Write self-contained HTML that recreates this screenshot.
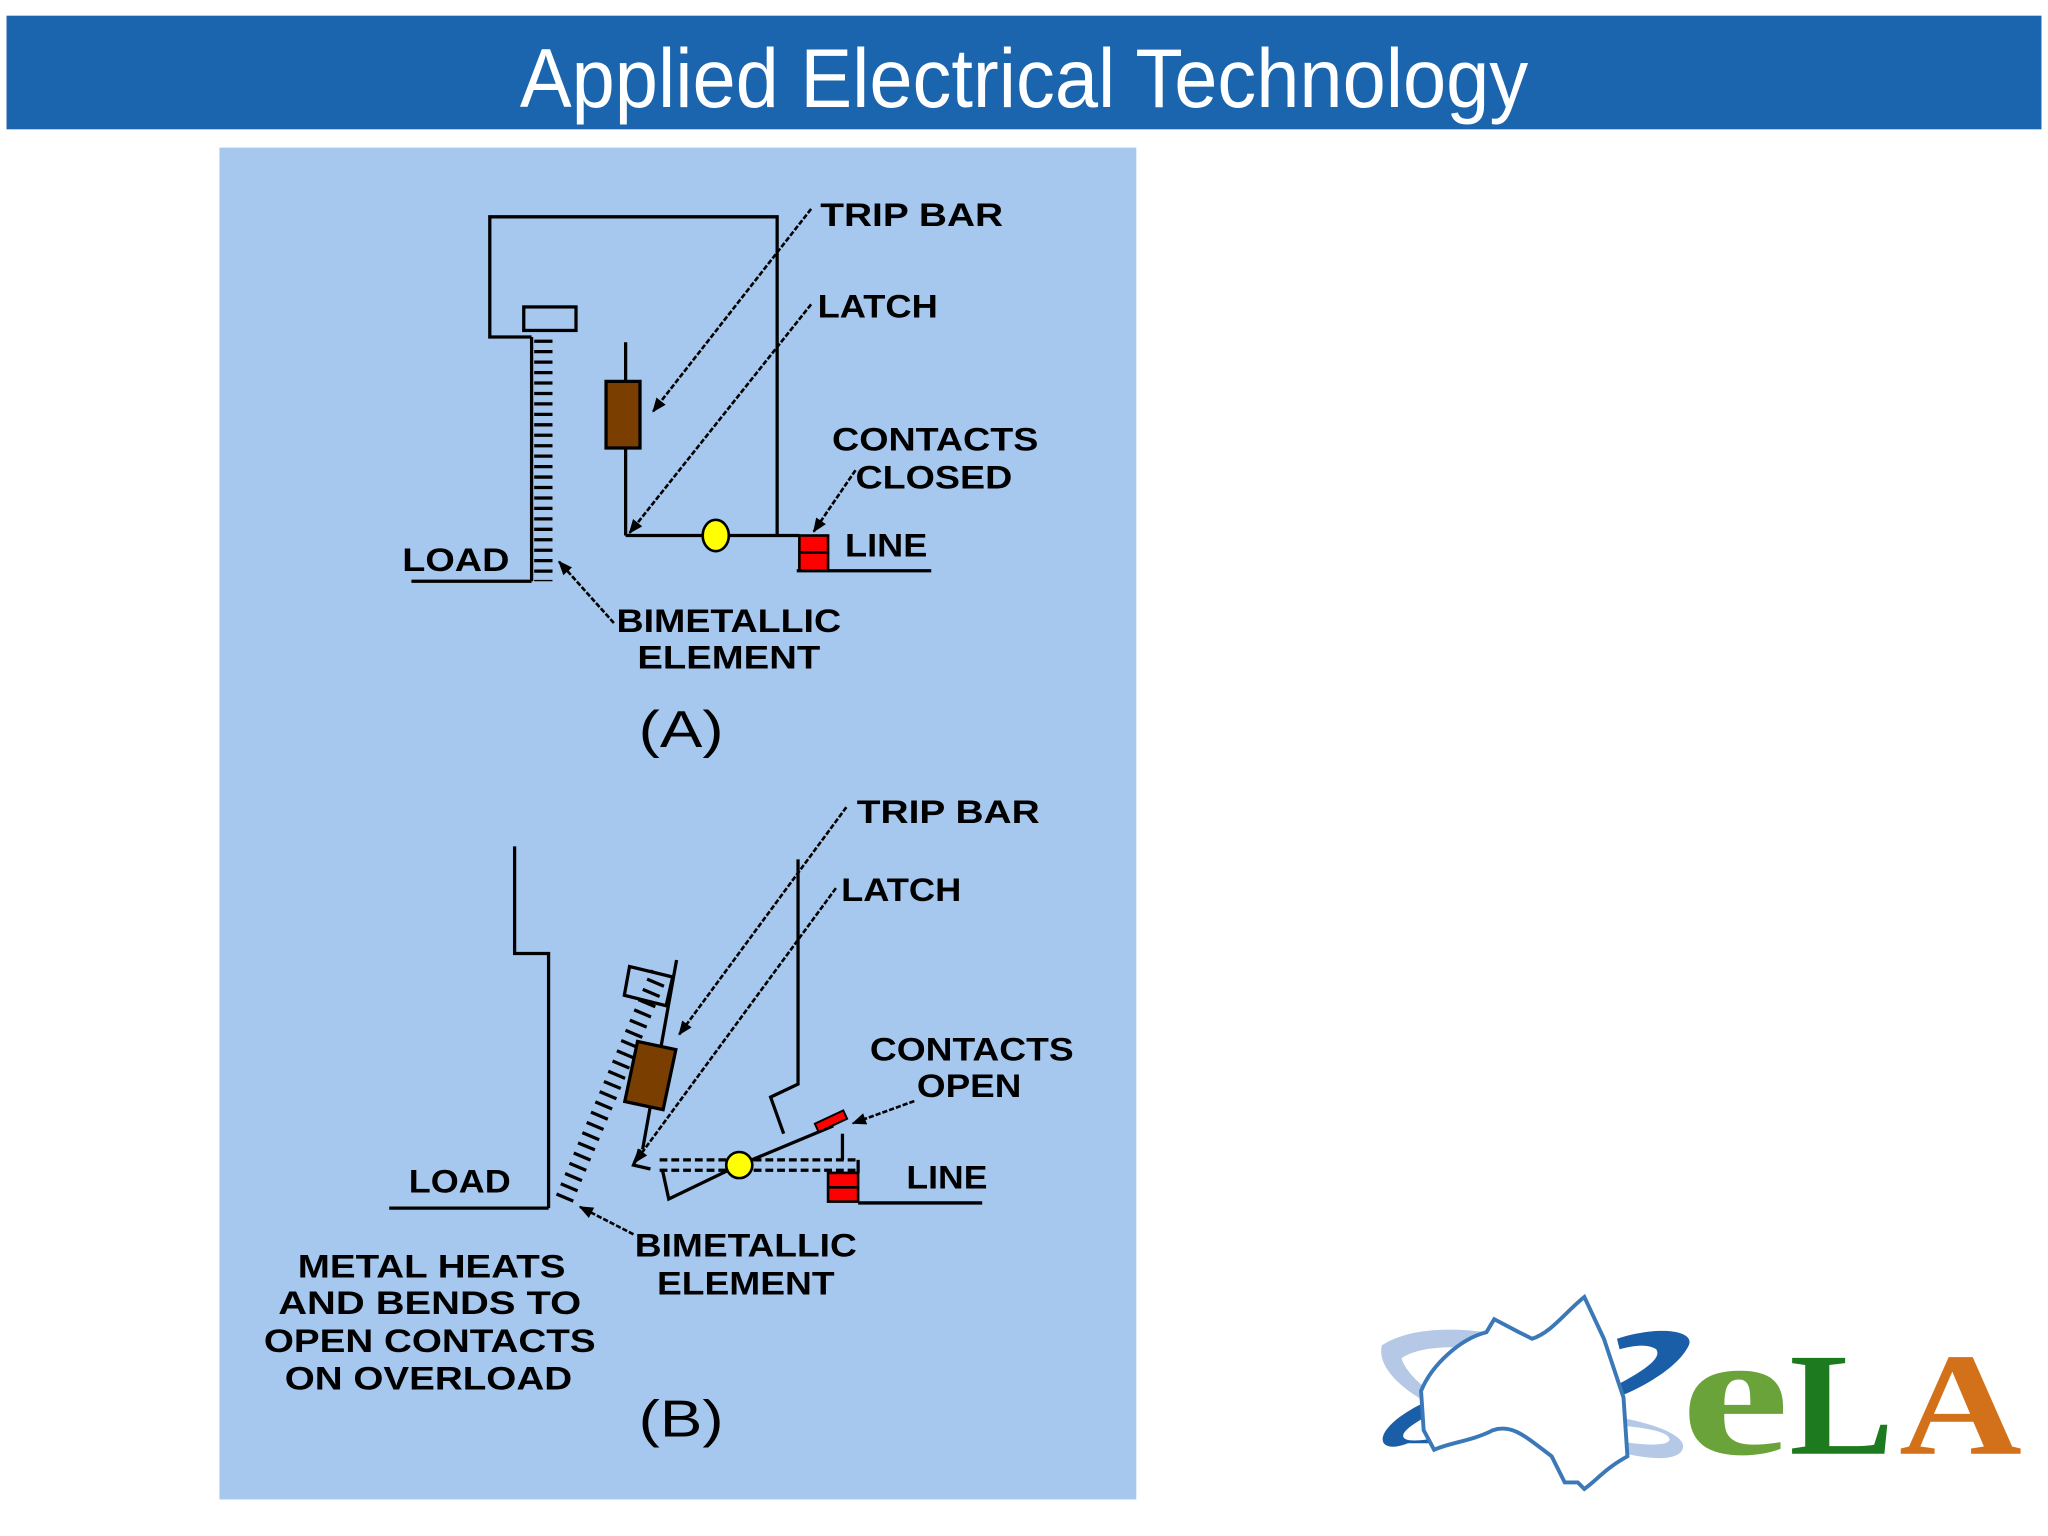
<!DOCTYPE html>
<html><head><meta charset="utf-8"><style>
html,body{margin:0;padding:0;background:#fff;width:2048px;height:1536px;overflow:hidden}
svg{display:block}
.t{font-family:"Liberation Sans",sans-serif;font-weight:bold;fill:#000}
</style></head><body>
<svg width="2048" height="1536" viewBox="0 0 1568 1176" xmlns="http://www.w3.org/2000/svg">
<defs>
<marker id="ar" markerWidth="11" markerHeight="11" refX="10" refY="5.5" orient="auto" markerUnits="userSpaceOnUse"><path d="M0,1 L11,5.5 L0,10 z" fill="#000"/></marker>
</defs>
<rect x="5" y="12" width="1558" height="87" fill="#1a65ae"/>
<text x="784" y="82" text-anchor="middle" font-family="Liberation Sans, sans-serif" font-size="64" fill="#fff" textLength="772" lengthAdjust="spacingAndGlyphs">Applied Electrical Technology</text>
<rect x="168" y="113" width="702" height="1035" fill="#a6c8ee"/>

<!-- Diagram A -->
<g stroke="#000" stroke-width="2.5" fill="none">
<path d="M407,258 L375,258 L375,166 L595,166 L595,410"/>
<rect x="401" y="235" width="40" height="18"/>
<line x1="407" y1="258" x2="407" y2="445"/>
<line x1="416" y1="260" x2="416" y2="445" stroke-width="14" stroke-dasharray="2.5 5.5"/>
<line x1="315" y1="445" x2="407" y2="445"/>
<line x1="479" y1="262" x2="479" y2="410"/>
<line x1="479" y1="410" x2="612" y2="410"/>
<line x1="610" y1="437" x2="713" y2="437"/>
<g stroke-width="2" stroke-dasharray="4 1.5">
<line x1="621" y1="160" x2="500" y2="315" marker-end="url(#ar)"/>
<line x1="621" y1="233" x2="482" y2="408" marker-end="url(#ar)"/>
<line x1="655" y1="360" x2="623" y2="407" marker-end="url(#ar)"/>
<line x1="470" y1="477" x2="428" y2="430" marker-end="url(#ar)"/>
</g>
</g>
<rect x="464" y="292" width="26" height="51" fill="#7a3f00" stroke="#000" stroke-width="2.5"/>
<ellipse cx="548" cy="410" rx="10" ry="12" fill="#ffff00" stroke="#000" stroke-width="2"/>
<rect x="612" y="410" width="22" height="27" fill="#ff0000" stroke="#000" stroke-width="2"/>
<line x1="612" y1="423" x2="634" y2="423" stroke="#000" stroke-width="2"/>
<g class="t" font-size="25">
<text x="628" y="173" textLength="140" lengthAdjust="spacingAndGlyphs">TRIP  BAR</text>
<text x="626" y="243" textLength="92" lengthAdjust="spacingAndGlyphs">LATCH</text>
<text x="637" y="345" textLength="158" lengthAdjust="spacingAndGlyphs">CONTACTS</text>
<text x="655" y="374" textLength="120" lengthAdjust="spacingAndGlyphs">CLOSED</text>
<text x="647" y="426" textLength="63" lengthAdjust="spacingAndGlyphs">LINE</text>
<text x="308" y="437" textLength="82" lengthAdjust="spacingAndGlyphs">LOAD</text>
<text x="472" y="484" textLength="172" lengthAdjust="spacingAndGlyphs">BIMETALLIC</text>
<text x="488" y="512" textLength="140" lengthAdjust="spacingAndGlyphs">ELEMENT</text>
</g>
<text x="489" y="572" font-family="Liberation Sans,sans-serif" font-size="40" textLength="65" lengthAdjust="spacingAndGlyphs">(A)</text>

<!-- Diagram B -->
<g stroke="#000" stroke-width="2.5" fill="none">
<path d="M394,648 L394,730 L420,730 L420,925"/>
<line x1="298" y1="925" x2="420" y2="925"/>
<line x1="432" y1="918" x2="505" y2="745" stroke-width="14" stroke-dasharray="2.5 6"/>
<path d="M482,740 L515,748 L510,770 L478,762 z"/>
<line x1="518" y1="735" x2="492" y2="880"/>
<path d="M611,658 L611,830 L590,840 L600,868"/>
<path d="M490,880 L485,892 L498,895"/>
<path d="M638,862 L566,892 L512,918 L507,895"/>
<line x1="505" y1="888" x2="657" y2="888" stroke-dasharray="6 3"/>
<line x1="505" y1="896" x2="657" y2="896" stroke-dasharray="6 3"/>
<line x1="657" y1="888" x2="657" y2="898"/>
<line x1="645" y1="888" x2="645" y2="868"/>
<line x1="657" y1="921" x2="752" y2="921"/>
<g stroke-width="2" stroke-dasharray="4 1.5">
<line x1="648" y1="618" x2="520" y2="792" marker-end="url(#ar)"/>
<line x1="640" y1="680" x2="486" y2="890" marker-end="url(#ar)"/>
<line x1="700" y1="843" x2="653" y2="860" marker-end="url(#ar)"/>
<line x1="485" y1="945" x2="444" y2="924" marker-end="url(#ar)"/>
</g>
</g>
<rect x="483" y="800" width="30" height="47" fill="#7a3f00" stroke="#000" stroke-width="2.5" transform="rotate(12 498 823)"/>
<rect x="624" y="855" width="24" height="7" fill="#ff0000" stroke="#000" stroke-width="1.5" transform="rotate(-25 636 858)"/>
<ellipse cx="566" cy="892" rx="10" ry="10" fill="#ffff00" stroke="#000" stroke-width="2"/>
<rect x="634" y="898" width="23" height="22" fill="#ff0000" stroke="#000" stroke-width="2"/>
<line x1="634" y1="909" x2="657" y2="909" stroke="#000" stroke-width="2"/>
<g class="t" font-size="25">
<text x="656" y="630" textLength="140" lengthAdjust="spacingAndGlyphs">TRIP  BAR</text>
<text x="644" y="690" textLength="92" lengthAdjust="spacingAndGlyphs">LATCH</text>
<text x="666" y="812" textLength="156" lengthAdjust="spacingAndGlyphs">CONTACTS</text>
<text x="702" y="840" textLength="80" lengthAdjust="spacingAndGlyphs">OPEN</text>
<text x="694" y="910" textLength="62" lengthAdjust="spacingAndGlyphs">LINE</text>
<text x="313" y="913" textLength="78" lengthAdjust="spacingAndGlyphs">LOAD</text>
<text x="486" y="962" textLength="170" lengthAdjust="spacingAndGlyphs">BIMETALLIC</text>
<text x="503" y="991" textLength="136" lengthAdjust="spacingAndGlyphs">ELEMENT</text>
<text x="228" y="978" textLength="205" lengthAdjust="spacingAndGlyphs">METAL  HEATS</text>
<text x="213" y="1006" textLength="232" lengthAdjust="spacingAndGlyphs">AND  BENDS  TO</text>
<text x="202" y="1035" textLength="254" lengthAdjust="spacingAndGlyphs">OPEN  CONTACTS</text>
<text x="218" y="1064" textLength="220" lengthAdjust="spacingAndGlyphs">ON  OVERLOAD</text>
</g>
<text x="489" y="1100" font-family="Liberation Sans,sans-serif" font-size="40" textLength="65" lengthAdjust="spacingAndGlyphs">(B)</text>

<!-- Logo -->
<g transform="translate(1048,985)">
<path d="M10,45 C40,25 110,30 170,60 L165,68 C110,45 45,40 25,55 C30,70 50,85 75,95 L70,100 C35,88 5,65 10,45 z" fill="#b5c8e6"/>
<path d="M190,40 C220,30 250,33 245,45 C238,60 215,75 190,85 L185,78 C210,65 225,55 220,48 C212,43 200,46 192,48 z" fill="#1a5ea8"/>
<path d="M30,120 C5,130 0,110 40,90 C70,75 110,65 130,65 L130,73 C100,75 60,88 35,105 C20,115 25,120 45,117 L70,112 L68,120 z" fill="#1a5ea8"/>
<path d="M190,100 C220,105 245,115 240,125 C235,135 210,132 185,125 L190,118 C210,122 228,122 230,118 C232,112 215,108 188,106 z" fill="#b5c8e6"/>
<path d="M40,80 C48,60 70,40 90,35 L96,25 L115,35 L125,40 C140,35 150,20 165,8 L180,40 L195,85 L198,130 C180,140 175,148 165,155 L160,150 L150,150 L140,130 C120,115 110,105 95,110 C80,118 60,120 50,125 L42,110 z" fill="#fff" stroke="#3a78b8" stroke-width="3"/>
</g>
<g font-family="Liberation Serif,serif" font-weight="bold">
<text x="1287" y="1113" font-size="135" fill="#6aa339" textLength="83" lengthAdjust="spacingAndGlyphs">e</text>
<text x="1370" y="1113" font-size="112" fill="#1e7a1e" textLength="80" lengthAdjust="spacingAndGlyphs">L</text>
<text x="1454" y="1113" font-size="112" fill="#d2711a" textLength="94" lengthAdjust="spacingAndGlyphs">A</text>
</g>
</svg>
</body></html>
